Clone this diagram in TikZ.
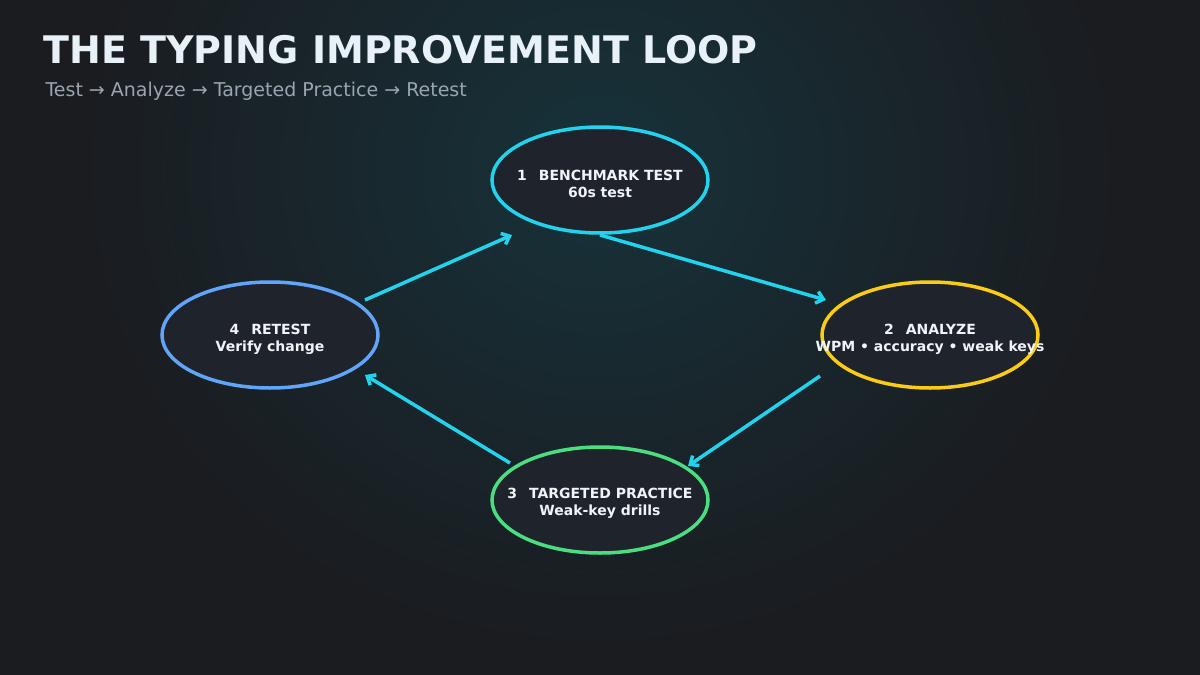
\documentclass[tikz,border=0pt]{standalone}
\usepackage{fontspec}
\setmainfont{DejaVu Sans}
\usetikzlibrary{arrows.meta,shapes.geometric}
\definecolor{bg}{HTML}{1A1C20}
\definecolor{glow}{HTML}{17323A}
\definecolor{nfill}{HTML}{1F232B}
\definecolor{cy}{HTML}{22D3EE}
\definecolor{ye}{HTML}{FACC15}
\definecolor{gr}{HTML}{4ADE80}
\definecolor{bl}{HTML}{60A5FA}
\begin{document}
\begin{tikzpicture}[x=1pt,y=-1pt,
 stage/.style={ellipse,draw,line width=3.5pt,fill=nfill,minimum width=216pt,minimum height=106pt,inner sep=0pt},
 lbl/.style={text={rgb,255:red,240;green,244;blue,248},align=center,font=\fontsize{14}{17}\selectfont\bfseries,inner sep=0pt},
 arr/.style={draw=cy,line width=3.5pt,-{Straight Barb[length=7pt,width=12pt]}}]
\fill[bg] (0,0) rectangle (1200,675);
\begin{scope}
\clip (0,0) rectangle (1200,675);
\shade[inner color=glow,outer color=bg] (600,170) ellipse (520 and 480);
\end{scope}
\useasboundingbox (0,0) rectangle (1200,675);
\node[anchor=west,text={rgb,255:red,232;green,240;blue,248},font=\fontsize{38}{44}\selectfont\bfseries] (title) at (40,50) {THE TYPING IMPROVEMENT LOOP};
\node[anchor=west,text={rgb,255:red,154;green,165;blue,177},font=\fontsize{19}{23}\selectfont] (sub) at (42,91) {Test → Analyze → Targeted Practice → Retest};
\node[stage,draw=cy] (n1) at (600,180) {};
\node[stage,draw=ye] (n2) at (930,335) {};
\node[stage,draw=gr] (n3) at (600,500) {};
\node[stage,draw=bl] (n4) at (270,335) {};
\node[lbl] (t1) at (600,184) {1\enspace\ BENCHMARK TEST\\60s test};
\node[lbl] (t2) at (930,339) {2\enspace\ ANALYZE\\WPM • accuracy • weak keys};
\node[lbl] (t3) at (600,503) {3\enspace\ TARGETED PRACTICE\\Weak-key drills};
\node[lbl] (t4) at (270,339) {4\enspace\ RETEST\\Verify change};
\coordinate (a1) at (365,300); \coordinate (b1) at (512,235);
\coordinate (a2) at (600,235); \coordinate (b2) at (826,300);
\coordinate (a3) at (820,376); \coordinate (b3) at (688,466);
\coordinate (a4) at (510,463); \coordinate (b4) at (365,375);
\draw[arr] (a1) -- (b1);
\draw[arr] (a2) -- (b2);
\draw[arr] (a3) -- (b3);
\draw[arr] (a4) -- (b4);
\end{tikzpicture}
\end{document}
